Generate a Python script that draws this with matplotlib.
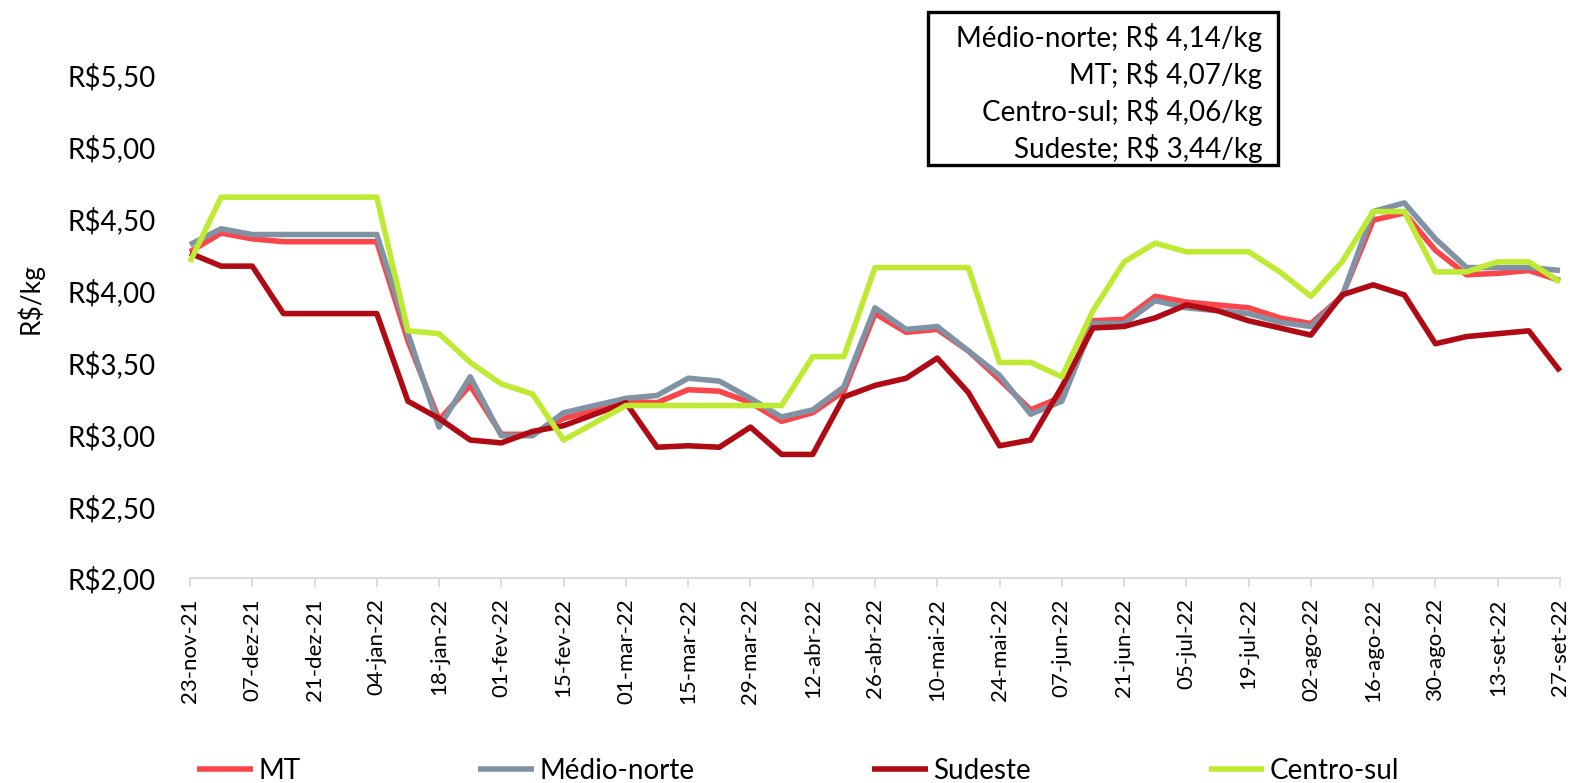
import matplotlib
matplotlib.use("Agg")
import matplotlib.pyplot as plt
import numpy as np
from matplotlib.patches import Rectangle

plt.rcParams['font.family'] = ['Lato', 'DejaVu Sans']

tick_labels = ["23-nov-21", "07-dez-21", "21-dez-21", "04-jan-22", "18-jan-22", "01-fev-22",
               "15-fev-22", "01-mar-22", "15-mar-22", "29-mar-22", "12-abr-22", "26-abr-22",
               "10-mai-22", "24-mai-22", "07-jun-22", "21-jun-22", "05-jul-22", "19-jul-22",
               "02-ago-22", "16-ago-22", "30-ago-22", "13-set-22", "27-set-22"]

mt = [4.27, 4.40, 4.36, 4.34, 4.34, 4.34, 4.34, 3.65, 3.10, 3.34, 3.00, 3.00, 3.11, 3.17,
      3.23, 3.22, 3.31, 3.30, 3.22, 3.09, 3.15, 3.30, 3.84, 3.71, 3.73, 3.58, 3.38, 3.17,
      3.26, 3.79, 3.80, 3.96, 3.92, 3.90, 3.88, 3.81, 3.77, 3.96, 4.49, 4.54, 4.28, 4.11,
      4.12, 4.14, 4.07]
medio_norte = [4.32, 4.43, 4.39, 4.39, 4.39, 4.39, 4.39, 3.70, 3.05, 3.40, 2.99, 2.99, 3.15,
               3.20, 3.25, 3.27, 3.39, 3.37, 3.25, 3.12, 3.17, 3.33, 3.88, 3.73, 3.75, 3.58,
               3.41, 3.14, 3.23, 3.77, 3.77, 3.93, 3.88, 3.86, 3.84, 3.78, 3.75, 3.96, 4.55,
               4.61, 4.36, 4.16, 4.16, 4.16, 4.14]
sudeste = [4.26, 4.17, 4.17, 3.84, 3.84, 3.84, 3.84, 3.23, 3.11, 2.96, 2.94, 3.02, 3.06, 3.14,
           3.22, 2.91, 2.92, 2.91, 3.05, 2.86, 2.86, 3.26, 3.34, 3.39, 3.53, 3.29, 2.92, 2.96,
           3.33, 3.74, 3.75, 3.81, 3.90, 3.86, 3.79, 3.74, 3.69, 3.97, 4.04, 3.97, 3.63, 3.68,
           3.70, 3.72, 3.44]
centro_sul = [4.20, 4.65, 4.65, 4.65, 4.65, 4.65, 4.65, 3.72, 3.70, 3.50, 3.35, 3.28, 2.96,
              3.08, 3.20, 3.20, 3.20, 3.20, 3.20, 3.20, 3.54, 3.54, 4.16, 4.16, 4.16, 4.16,
              3.50, 3.50, 3.40, 3.86, 4.20, 4.33, 4.27, 4.27, 4.27, 4.13, 3.96, 4.20, 4.55,
              4.55, 4.13, 4.13, 4.20, 4.20, 4.06]

y_ticks = [2.0, 2.5, 3.0, 3.5, 4.0, 4.5, 5.0, 5.5]
box_lines = ["Médio-norte; R$ 4,14/kg", "MT; R$ 4,07/kg", "Centro-sul; R$ 4,06/kg",
             "Sudeste; R$ 3,44/kg"]

series = [("MT", mt, "#FA464B"), ("Médio-norte", medio_norte, "#8093A5"),
          ("Sudeste", sudeste, "#B00B14"), ("Centro-sul", centro_sul, "#BEEB32")]

W, H = 1572, 783
fig = plt.figure(figsize=(W / 100, H / 100), dpi=100)
ax = fig.add_axes([190 / W, 1 - 578 / H, (1560 - 190) / W, (578 - 75) / H])

x = np.arange(len(mt))
for name, vals, col in series:
    ax.plot(x, vals, color=col, lw=4.0, label=name, solid_joinstyle='round',
            solid_capstyle='butt', clip_on=False)

ax.set_xlim(0, len(mt) - 1)
ax.set_ylim(2.0, 5.5)
ax.set_xticks(np.arange(0, len(mt), 2))
ax.set_xticklabels(tick_labels, rotation=90, fontsize=16)
ax.set_yticks(y_ticks)
ax.set_yticklabels(["R$" + f"{v:.2f}".replace(".", ",") for v in y_ticks], fontsize=20)
ax.tick_params(axis='x', direction='out', length=6.5, width=1.3, color='#d9d9d9', pad=8)
ax.tick_params(axis='y', length=0, pad=25)
for s in ['left', 'right', 'top']:
    ax.spines[s].set_visible(False)
ax.spines['bottom'].set_color('#d9d9d9')
ax.spines['bottom'].set_linewidth(1.3)
ax.set_ylabel("R$/kg", fontsize=19)
ax.yaxis.set_label_coords(-0.107, 0.555)

# annotation box
fig.patches.append(Rectangle((928 / W, 1 - 165 / H), 350 / W, 153 / H, transform=fig.transFigure,
                             fill=True, facecolor='white', edgecolor='black', lw=2.4, zorder=5))
for i, t in enumerate(box_lines):
    fig.text(1262 / W, 1 - (38 + 36.7 * i) / H, t, ha='right', va='center', fontsize=20, zorder=6)

handles, labels = ax.get_legend_handles_labels()
fig.legend(handles, labels, ncol=4, loc='center left', bbox_to_anchor=(197 / W, 1 - 771 / H),
           frameon=False, fontsize=20, handlelength=2.0, handletextpad=0.2,
           columnspacing=6.4, borderpad=0, borderaxespad=0)

fig.savefig("out.png", dpi=100)
